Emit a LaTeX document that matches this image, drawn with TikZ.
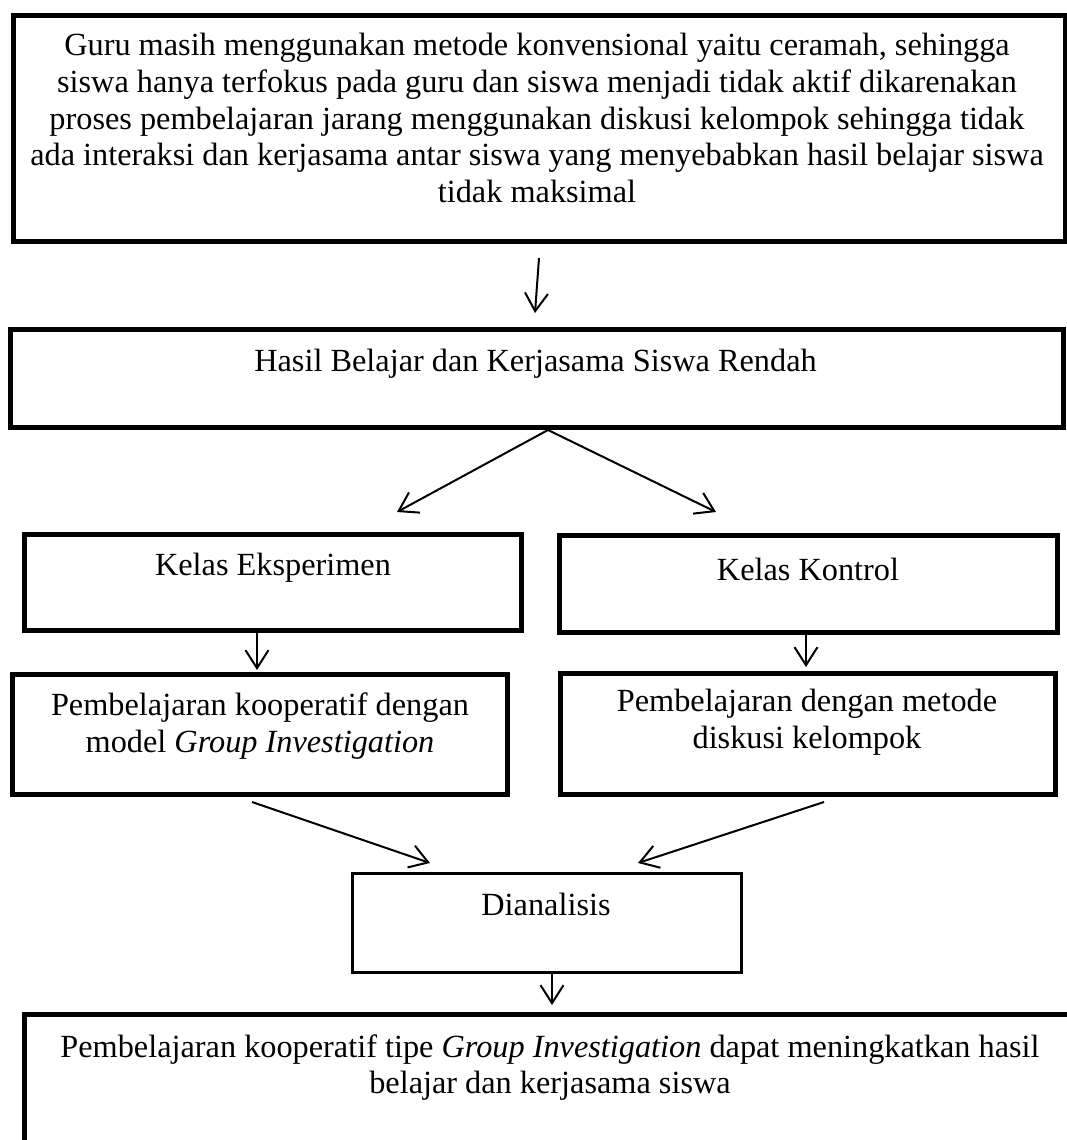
\documentclass[tikz,border=0pt]{standalone}
\usepackage{fontspec}
\setmainfont{Liberation Serif}
\usetikzlibrary{arrows.meta}
\begin{document}
\begin{tikzpicture}[x=1pt,y=-1pt,
  thickbox/.style={draw, line width=5pt, rectangle, inner sep=0pt},
  thinbox/.style={draw, line width=3pt, rectangle, inner sep=0pt},
  txt/.style={align=center, inner sep=0pt, font=\fontsize{32.3}{36.8}\selectfont},
  arr/.style={line width=2pt, -{Straight Barb[length=18pt,width=23pt,line width=2pt]}}]
\useasboundingbox (0,0) rectangle (1067,1140);
\clip (0,0) rectangle (1067,1140);

% boxes
\node[thickbox, minimum width=1051.5pt, minimum height=226pt] (b1) at (539.25,128.5) {};
\node[thickbox, minimum width=1053pt, minimum height=98pt] (b2) at (537,378.5) {};
\node[thickbox, minimum width=497pt, minimum height=96pt] (b3) at (273,582.5) {};
\node[thickbox, minimum width=498pt, minimum height=97pt] (b4) at (808.5,584) {};
\node[thickbox, minimum width=495pt, minimum height=120pt] (b5) at (260,734.5) {};
\node[thickbox, minimum width=495pt, minimum height=121pt] (b6) at (808,734) {};
\node[thinbox, minimum width=389pt, minimum height=99pt] (b7) at (547,923) {};
\node[thickbox, minimum width=1065.5pt, minimum height=145.5pt] (b8) at (557.25,1087.25) {};

% texts
\node[txt] (t1) at (537,118) {Guru masih menggunakan metode konvensional yaitu ceramah, sehingga\\
siswa hanya terfokus pada guru dan siswa menjadi tidak aktif dikarenakan\\
proses pembelajaran jarang menggunakan diskusi kelompok sehingga tidak\\
ada interaksi dan kerjasama antar siswa yang menyebabkan hasil belajar siswa\\
tidak maksimal};
\node[txt] (t2) at (535.5,364) {Hasil Belajar dan Kerjasama Siswa Rendah};
\node[txt] (t3) at (273,568) {Kelas Eksperimen};
\node[txt] (t4) at (808,569) {Kelas Kontrol};
\node[txt] (t5) at (260,726) {Pembelajaran kooperatif dengan\\ model \textit{Group Investigation}};
\node[txt] (t6) at (807,722.5) {Pembelajaran dengan metode\\ diskusi kelompok};
\node[txt] (t7) at (546,904) {Dianalisis};
\node[txt] (t8) at (550,1067.5) {Pembelajaran kooperatif tipe \textit{Group Investigation} dapat meningkatkan hasil\\ belajar dan kerjasama siswa};

% connector ends
\coordinate (a1s) at (539,258);
\coordinate (a1e) at (535,313);
\coordinate (a2l) at (397,512);
\coordinate (a2r) at (716,512);
\coordinate (a3e) at (257,670);
\coordinate (a4e) at (806,667);
\coordinate (a5s) at (252,802);
\coordinate (a5e) at (430,863);
\coordinate (a6s) at (824,802);
\coordinate (a6e) at (638,863);
\coordinate (a7e) at (552,1005);

% connectors
\draw[arr] (a1s) -- (a1e);
\draw[arr] ([xshift=11pt]b2.south) -- (a2l);
\draw[arr] ([xshift=11pt]b2.south) -- (a2r);
\draw[arr] (b3.south -| a3e) -- (a3e);
\draw[arr] (b4.south -| a4e) -- (a4e);
\draw[arr] (a5s) -- (a5e);
\draw[arr] (a6s) -- (a6e);
\draw[arr] (b7.south -| a7e) -- (a7e);
\end{tikzpicture}
\end{document}
